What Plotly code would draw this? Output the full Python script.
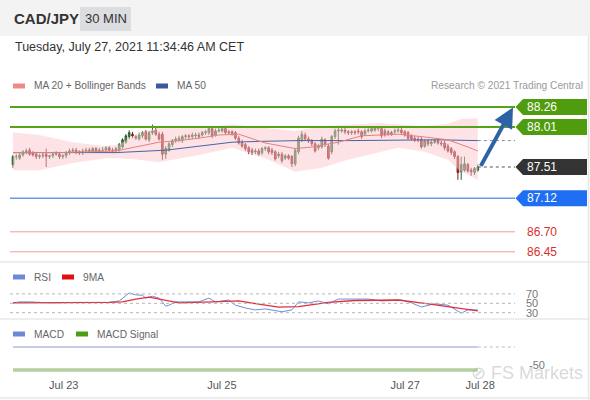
import plotly.graph_objects as go

W, H = 590, 400

# ---------------- data ----------------
candle_open = [87.54,87.64,87.62,87.66,87.70,87.72,87.69,87.67,87.64,87.65,
               87.67,87.64,87.65,87.67,87.67,87.64,87.65,87.69,87.71,87.72,
               87.70,87.69,87.71,87.72,87.71,87.74,87.71,87.72,87.72,87.75,
               87.72,87.71,87.72,87.76,87.82,87.89,87.92,87.87,87.86,87.90,
               87.95,87.85,87.94,87.97,87.92,87.92,87.67,87.72,87.79,87.84,
               87.85,87.84,87.89,87.90,87.89,87.90,87.91,87.91,87.94,87.94,
               87.99,87.91,87.96,87.96,87.99,87.95,87.95,87.94,87.87,87.82,
               87.79,87.75,87.72,87.70,87.71,87.69,87.74,87.75,87.72,87.70,
               87.65,87.67,87.62,87.65,87.64,87.55,87.70,87.85,87.91,87.86,
               87.84,87.80,87.75,87.76,87.85,87.77,87.70,87.89,87.96,87.96,
               87.97,87.95,87.94,87.95,87.96,87.95,87.92,87.96,87.96,87.97,
               87.99,87.99,87.96,87.92,87.94,87.95,87.96,87.97,87.95,87.94,
               87.90,87.87,87.86,87.86,87.77,87.84,87.80,87.82,87.84,87.81,
               87.81,87.77,87.74,87.70,87.64,87.45,87.47,87.54,87.47,87.44,
               87.47]
candle_high = [87.66,87.67,87.69,87.72,87.74,87.75,87.71,87.70,87.67,87.69,
               87.74,87.66,87.70,87.71,87.70,87.67,87.71,87.74,87.75,87.75,
               87.72,87.74,87.75,87.75,87.76,87.76,87.75,87.76,87.77,87.77,
               87.75,87.76,87.81,87.87,87.92,87.97,87.95,87.91,87.94,87.96,
               87.97,87.96,88.04,88.00,87.95,87.95,87.77,87.82,87.86,87.89,
               87.90,87.91,87.92,87.92,87.94,87.94,87.94,87.96,87.97,88.01,
               88.01,87.99,88.00,88.01,88.01,87.97,87.97,87.96,87.90,87.85,
               87.81,87.77,87.75,87.74,87.74,87.76,87.77,87.77,87.75,87.72,
               87.70,87.70,87.67,87.67,87.66,87.75,87.90,87.96,87.94,87.89,
               87.86,87.82,87.80,87.89,87.87,87.80,87.91,87.99,88.00,88.00,
               88.00,87.97,87.97,87.97,87.99,87.97,87.99,88.00,88.01,88.02,
               88.02,88.01,87.99,87.97,87.96,87.99,88.00,88.00,87.97,87.96,
               87.92,87.90,87.89,87.89,87.86,87.86,87.85,87.86,87.86,87.84,
               87.84,87.80,87.76,87.72,87.66,87.64,87.64,87.56,87.50,87.51,
               87.54]
candle_low = [87.50,87.60,87.60,87.64,87.67,87.65,87.64,87.61,87.61,87.62,
              87.51,87.61,87.62,87.65,87.61,87.61,87.62,87.66,87.69,87.67,
              87.66,87.66,87.69,87.69,87.69,87.69,87.69,87.70,87.70,87.70,
              87.69,87.69,87.70,87.74,87.80,87.86,87.87,87.85,87.84,87.87,
              87.84,87.82,87.91,87.90,87.84,87.60,87.61,87.70,87.76,87.81,
              87.82,87.81,87.86,87.86,87.86,87.87,87.86,87.89,87.91,87.91,
              87.87,87.89,87.94,87.94,87.91,87.91,87.90,87.85,87.79,87.75,
              87.71,87.67,87.66,87.67,87.65,87.66,87.71,87.67,87.66,87.59,
              87.62,87.56,87.60,87.60,87.51,87.52,87.67,87.82,87.84,87.81,
              87.77,87.69,87.72,87.74,87.76,87.60,87.67,87.86,87.79,87.94,
              87.92,87.91,87.91,87.91,87.92,87.86,87.90,87.94,87.94,87.95,
              87.96,87.87,87.89,87.90,87.90,87.92,87.94,87.91,87.89,87.85,
              87.84,87.82,87.82,87.74,87.75,87.77,87.77,87.80,87.79,87.77,
              87.72,87.69,87.66,87.61,87.35,87.35,87.45,87.44,87.40,87.41,
              87.45]
candle_close = [87.64,87.64,87.66,87.70,87.71,87.67,87.66,87.64,87.65,87.66,
                87.64,87.65,87.67,87.69,87.64,87.65,87.69,87.71,87.72,87.70,
                87.69,87.71,87.72,87.71,87.74,87.71,87.72,87.72,87.75,87.72,
                87.71,87.74,87.79,87.85,87.90,87.94,87.90,87.89,87.91,87.94,
                87.86,87.94,87.96,87.92,87.86,87.67,87.74,87.80,87.84,87.86,
                87.87,87.89,87.90,87.89,87.91,87.91,87.89,87.94,87.95,87.99,
                87.90,87.96,87.97,87.99,87.94,87.94,87.92,87.87,87.81,87.77,
                87.74,87.70,87.69,87.71,87.67,87.74,87.75,87.70,87.69,87.61,
                87.67,87.59,87.65,87.62,87.55,87.72,87.87,87.92,87.86,87.84,
                87.80,87.71,87.77,87.86,87.79,87.62,87.89,87.96,87.97,87.97,
                87.95,87.94,87.95,87.94,87.95,87.89,87.96,87.97,87.99,88.00,
                88.00,87.90,87.91,87.95,87.92,87.96,87.97,87.94,87.91,87.87,
                87.86,87.85,87.85,87.76,87.84,87.80,87.82,87.84,87.81,87.80,
                87.75,87.71,87.69,87.64,87.44,87.54,87.55,87.46,87.45,87.49,
                87.51]

ma20_idx = [0, 14, 31, 38, 44, 50, 56, 62, 68, 76, 85, 90, 98, 105, 116, 123, 131, 137, 140]
ma20_val = [87.69, 87.69, 87.71, 87.77, 87.82, 87.84, 87.87, 87.91, 87.92, 87.81,
            87.74, 87.76, 87.82, 87.90, 87.92, 87.89, 87.85, 87.76, 87.71]
ma50_idx = [0, 14, 31, 46, 56, 66, 74, 86, 101, 116, 128, 140]
ma50_val = [87.69, 87.69, 87.69, 87.72, 87.77, 87.82, 87.83, 87.84, 87.84, 87.85, 87.85, 87.84]

bb_upper_idx = [0, 8, 18, 28, 32, 38, 44, 56, 66, 76, 85, 93, 110, 124, 131, 135, 140]
bb_upper_val = [87.94, 87.91, 87.82, 87.77, 87.79, 87.94, 88.00, 88.00, 88.04, 88.00,
                87.96, 88.02, 88.06, 88.02, 88.05, 88.11, 88.12]
bb_lower_idx = [0, 8, 18, 28, 32, 38, 44, 56, 66, 76, 85, 93, 100, 116, 124, 131, 135, 140]
bb_lower_val = [87.47, 87.47, 87.56, 87.62, 87.62, 87.60, 87.57, 87.66, 87.75, 87.62,
                87.45, 87.50, 87.59, 87.75, 87.70, 87.60, 87.45, 87.35]

rsi_idx = [0, 2, 5, 11, 20, 29, 32, 35, 37, 39, 40, 42, 44, 46, 47, 49, 56, 59, 61, 65,
           67, 70, 73, 76, 81, 84, 86, 89, 92, 95, 98, 107, 111, 117, 120, 123, 127, 131,
           135, 137, 140]
rsi_val = [51, 53, 53, 51, 52, 52, 55, 72, 68, 67, 61, 65, 61, 44, 46, 53, 53, 61, 53, 57,
           46, 40, 36, 38, 32, 36, 53, 51, 55, 49, 59, 59, 55, 57, 51, 42, 49, 46,
           29, 36, 36]
rsi_ma_idx = [0, 11, 29, 33, 37, 41, 45, 50, 60, 68, 75, 80, 86, 95, 103, 116, 124, 131, 135, 140]
rsi_ma_val = [51, 51, 52, 53, 59, 63, 58, 51, 53, 55, 47, 42, 43, 52, 56, 57, 50, 43, 39, 34]

macd_idx = [0, 140]
macd_val = [0.047, 0.047]
signal_idx = [0, 140]
signal_val = [-0.088, -0.088]

resistance_levels = [88.26, 88.01]
current_price = 87.51
support_level = 87.12
lower_levels = [86.70, 86.45]
rsi_levels = [70, 50, 30]

tick_pos = [15.3, 62.9, 118.1, 140.7]
tick_text = ["Jul 23", "Jul 25", "Jul 27", "Jul 28"]

# ---------------- helpers ----------------
def px(x):
    return x / W

def py(y):
    return 1 - y / H

FONT = "Liberation Sans, Arial, sans-serif"
n = len(candle_close)
idx = list(range(n))

fig = go.Figure()

# Bollinger band cloud
fig.add_trace(go.Scatter(
    x=bb_upper_idx + bb_lower_idx[::-1],
    y=bb_upper_val + bb_lower_val[::-1],
    fill="toself", fillcolor="rgba(252,200,206,0.5)",
    line=dict(width=0), mode="lines", hoverinfo="skip", showlegend=False,
    xaxis="x", yaxis="y"))

fig.add_trace(go.Scatter(x=ma50_idx, y=ma50_val, mode="lines",
                         line=dict(color="#4a62a6", width=1), showlegend=False,
                         xaxis="x", yaxis="y"))
fig.add_trace(go.Scatter(x=ma20_idx, y=ma20_val, mode="lines",
                         line=dict(color="#e97f7f", width=1), showlegend=False,
                         xaxis="x", yaxis="y"))

fig.add_trace(go.Candlestick(
    x=idx, open=candle_open, high=candle_high, low=candle_low, close=candle_close,
    increasing=dict(line=dict(color="#2d5f30", width=1), fillcolor="#3f9a48"),
    decreasing=dict(line=dict(color="#7e1c1c", width=1), fillcolor="#d03434"),
    whiskerwidth=0, showlegend=False, xaxis="x", yaxis="y"))

# RSI
fig.add_trace(go.Scatter(x=rsi_idx, y=rsi_val, mode="lines",
                         line=dict(color="#6e8fd8", width=1), showlegend=False,
                         xaxis="x", yaxis="y2"))
fig.add_trace(go.Scatter(x=rsi_ma_idx, y=rsi_ma_val, mode="lines",
                         line=dict(color="#e0303a", width=1.3), showlegend=False,
                         xaxis="x", yaxis="y2"))

# MACD
fig.add_trace(go.Scatter(x=macd_idx, y=macd_val, mode="lines",
                         line=dict(color="#c6cbe8", width=2), showlegend=False,
                         xaxis="x", yaxis="y3"))
fig.add_trace(go.Scatter(x=signal_idx, y=signal_val, mode="lines",
                         line=dict(color="#b3d19f", width=3.5), showlegend=False,
                         xaxis="x", yaxis="y3"))

shapes = []
annotations = []

# header
shapes.append(dict(type="rect", xref="paper", yref="paper", x0=0, x1=1, y0=py(36), y1=1,
                   fillcolor="#f3f3f3", line=dict(width=0), layer="below"))
shapes.append(dict(type="rect", xref="paper", yref="paper", x0=px(80), x1=px(131),
                   y0=py(31), y1=py(7), fillcolor="#dcdde1", line=dict(width=0), layer="below"))
annotations.append(dict(text="<b>CAD/JPY</b>", x=px(12), y=py(19), xref="paper", yref="paper",
                        xanchor="left", yanchor="middle", showarrow=False,
                        font=dict(size=15, color="#333", family=FONT)))
annotations.append(dict(text="30 MIN", x=px(105.5), y=py(19), xref="paper", yref="paper",
                        xanchor="center", yanchor="middle", showarrow=False,
                        font=dict(size=13, color="#333", family=FONT)))
annotations.append(dict(text="Tuesday, July 27, 2021 11:34:46 AM CET", x=px(13), y=py(47),
                        xref="paper", yref="paper", xanchor="left", yanchor="middle",
                        showarrow=False, font=dict(size=12.5, color="#333", family=FONT)))

# panel separators / borders
for yy in (262, 319):
    shapes.append(dict(type="line", xref="paper", yref="paper", x0=0, x1=1, y0=py(yy), y1=py(yy),
                       line=dict(color="#eeeeee", width=2), layer="below"))
shapes.append(dict(type="line", xref="paper", yref="paper", x0=px(588.5), x1=px(588.5),
                   y0=0, y1=py(36), line=dict(color="#e6e6e6", width=1.5), layer="below"))
shapes.append(dict(type="line", xref="paper", yref="paper", x0=0, x1=1, y0=py(398), y1=py(398),
                   line=dict(color="#eeeeee", width=2), layer="below"))

# legends
def legend_item(x, y, color, text):
    shapes.append(dict(type="rect", xref="paper", yref="paper", x0=px(x), x1=px(x + 12),
                       y0=py(y + 2.5), y1=py(y - 2.5), fillcolor=color, line=dict(width=0)))
    annotations.append(dict(text=text, x=px(x + 19), y=py(y), xref="paper", yref="paper",
                            xanchor="left", yanchor="middle", showarrow=False,
                            font=dict(size=10.2, color="#666", family=FONT)))

legend_item(13, 86, "#f08a8a", "MA 20 + Bollinger Bands")
legend_item(156, 86, "#3c5a9a", "MA 50")
legend_item(13, 277, "#6a8ad8", "RSI")
legend_item(62, 277, "#e01010", "9MA")
legend_item(13, 334, "#6a8ad8", "MACD")
legend_item(76, 334, "#4aa014", "MACD Signal")
annotations.append(dict(text="Research © 2021 Trading Central", x=px(585), y=py(86),
                        xref="paper", yref="paper", xanchor="right", yanchor="middle",
                        showarrow=False, font=dict(size=10.2, color="#9a9a9a", family=FONT)))

X0, X1 = px(10), px(515)

# level lines
for lv in resistance_levels:
    shapes.append(dict(type="line", xref="paper", yref="y", x0=X0, x1=X1, y0=lv, y1=lv,
                       line=dict(color="#55a318", width=2)))
shapes.append(dict(type="line", xref="paper", yref="y", x0=X0, x1=X1, y0=support_level,
                   y1=support_level, line=dict(color="#6d98e6", width=1.5)))
for lv in lower_levels:
    shapes.append(dict(type="line", xref="paper", yref="y", x0=X0, x1=X1, y0=lv, y1=lv,
                       line=dict(color="#f29a9a", width=1)))
shapes.append(dict(type="line", xref="x", yref="y", x0=idx[-1], x1=151.2, y0=current_price,
                   y1=current_price, line=dict(color="#555", width=1, dash="dot")))
shapes.append(dict(type="line", xref="x", yref="y", x0=ma50_idx[-1], x1=151.2, y0=ma50_val[-1],
                   y1=ma50_val[-1], line=dict(color="#888", width=1, dash="dot")))

# label boxes
def label_box(price, color):
    xt, xb, xr = px(515.5), px(523), px(587)
    shapes.append(dict(type="path", xref="paper", yref="y", ysizemode="pixel", yanchor=price,
                       path=f"M {xt},0 L {xb},8 L {xr},8 L {xr},-8 L {xb},-8 Z",
                       fillcolor=color, line=dict(width=0)))
    annotations.append(dict(text=f"{price:.2f}", x=px(525), y=price, xref="paper", yref="y",
                            xanchor="left", yanchor="middle", showarrow=False,
                            font=dict(size=12, color="white", family=FONT)))

for lv in resistance_levels:
    label_box(lv, "#4f9c0e")
label_box(current_price, "#333333")
label_box(support_level, "#1f6ff2")
for lv in lower_levels:
    annotations.append(dict(text=f"{lv:.2f}", x=px(525), y=lv, xref="paper", yref="y",
                            xanchor="left", yanchor="middle", showarrow=False,
                            font=dict(size=12, color="#d9302c", family=FONT)))

# forecast arrow
annotations.append(dict(text="", x=px(513), y=resistance_levels[0] - 0.005, xref="paper", yref="y",
                        ax=-33, ay=60, showarrow=True, arrowhead=2, arrowsize=1,
                        arrowwidth=4, arrowcolor="#2d62a6", standoff=0))

# RSI levels
for lv in rsi_levels:
    shapes.append(dict(type="line", xref="paper", yref="y2", x0=X0, x1=X1, y0=lv, y1=lv,
                       line=dict(color="#b5b5b5", width=1, dash="dot")))
    annotations.append(dict(text=str(lv), x=px(524), y=lv, xref="paper", yref="y2",
                            xanchor="left", yanchor="middle", showarrow=False,
                            font=dict(size=11, color="#777", family=FONT)))

# MACD dotted continuation and label
shapes.append(dict(type="line", xref="x", yref="y3", x0=macd_idx[-1], x1=151.2, y0=macd_val[-1],
                   y1=macd_val[-1], line=dict(color="#b8bcd8", width=1, dash="dot")))
annotations.append(dict(text="-50", x=px(527), y=py(365), xref="paper", yref="paper",
                        xanchor="left", yanchor="middle", showarrow=False,
                        font=dict(size=11, color="#777", family=FONT)))
annotations.append(dict(text="⊘ FS Markets", x=px(585), y=py(373), xref="paper", yref="paper",
                        xanchor="right", yanchor="middle", showarrow=False,
                        font=dict(size=18, color="rgba(170,170,170,0.45)", family=FONT)))

fig.update_layout(
    width=W, height=H, margin=dict(l=0, r=0, t=0, b=0),
    paper_bgcolor="white", plot_bgcolor="rgba(0,0,0,0)",
    showlegend=False, shapes=shapes, annotations=annotations,
    font=dict(family=FONT),
    xaxis=dict(domain=[px(10), px(515)], range=[-0.9, 151.2], anchor="y3",
               showgrid=False, zeroline=False, showline=False, ticks="",
               tickvals=tick_pos, ticktext=tick_text, ticklabelstandoff=5,
               tickfont=dict(size=11, color="#555", family=FONT),
               rangeslider=dict(visible=False)),
    yaxis=dict(domain=[py(262), py(95)], range=[86.3225, 88.41], showgrid=False,
               zeroline=False, showticklabels=False, anchor="x"),
    yaxis2=dict(domain=[py(318), py(284)], range=[18.72, 91.06], showgrid=False,
                zeroline=False, showticklabels=False, anchor="x"),
    yaxis3=dict(domain=[py(372), py(338)], range=[-0.1, 0.1], showgrid=False,
                zeroline=False, showticklabels=False, anchor="x"),
)

fig.write_html("out.html", config={"displayModeBar": False},
               post_script="document.body.style.margin='0px';document.body.style.overflow='hidden';")
